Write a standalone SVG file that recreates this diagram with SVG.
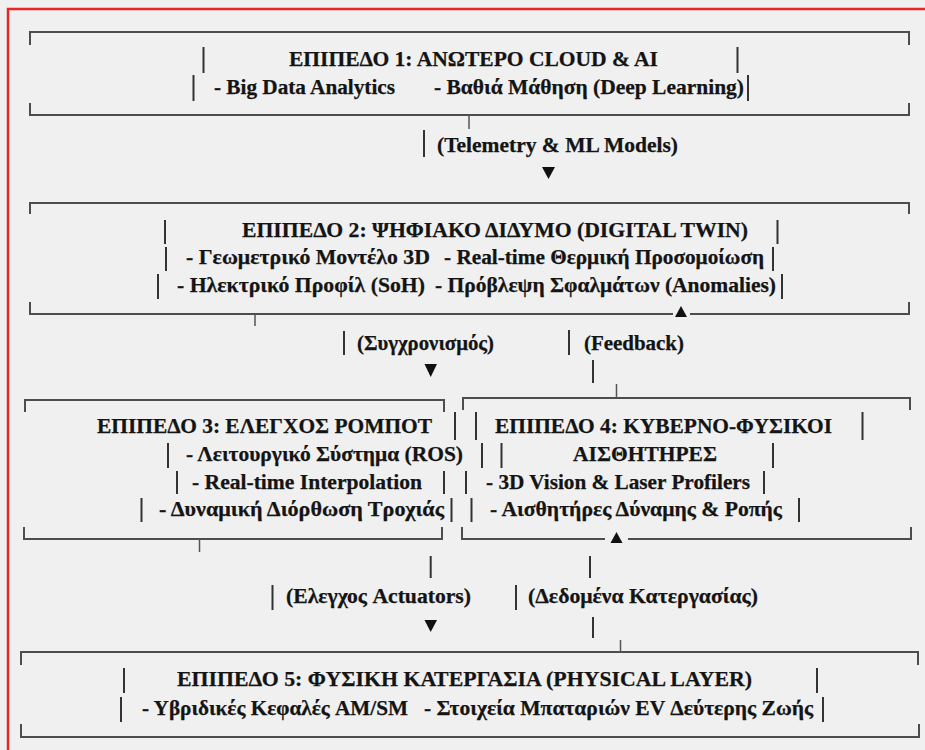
<svg xmlns="http://www.w3.org/2000/svg" width="925" height="750" viewBox="0 0 925 750">
<style>
.t{font-family:"Liberation Serif","Times New Roman",serif;font-weight:bold;font-size:21px;fill:#141414;stroke:#141414;stroke-width:0.25}
.br{fill:none;stroke:#4d4d4d;stroke-width:2}
.bar{stroke:#333;stroke-width:2;fill:none}
.tk{stroke:#555;stroke-width:1.5;fill:none}
.ar{fill:#111}
</style>
<rect x="0" y="0" width="925" height="750" fill="#f0f0f0"/>
<rect x="8" y="9" width="940" height="770" fill="none" stroke="#e8262a" stroke-width="2.5"/>

<g id="level1">
<path class="br" d="M30 45V32H909V45M30 103V115H909V103"/>
<line class="bar" x1="203.5" y1="47" x2="203.5" y2="73"/>
<line class="bar" x1="737.5" y1="47" x2="737.5" y2="73"/>
<line class="bar" x1="193.5" y1="75" x2="193.5" y2="101"/>
<line class="bar" x1="748" y1="75" x2="748" y2="101"/>
<text class="t" x="289" y="66" textLength="369" lengthAdjust="spacingAndGlyphs">ΕΠΙΠΕΔΟ 1: ΑΝΩΤΕΡΟ CLOUD &amp; AI</text>
<text class="t" x="214" y="94" textLength="181" lengthAdjust="spacingAndGlyphs">- Big Data Analytics</text>
<text class="t" x="434" y="94" textLength="310" lengthAdjust="spacingAndGlyphs">- Βαθιά Μάθηση (Deep Learning)</text>
</g>

<g id="level2">
<path class="br" d="M30 214V203H909V214M30 302V314H673M690 314H909V302"/>
<polygon class="ar" points="675,317 687,317 681,306"/>
<line class="bar" x1="165" y1="220" x2="165" y2="244"/>
<line class="bar" x1="777.5" y1="220" x2="777.5" y2="244"/>
<line class="bar" x1="166" y1="247" x2="166" y2="271"/>
<line class="bar" x1="773" y1="247" x2="773" y2="271"/>
<line class="bar" x1="158" y1="274" x2="158" y2="299"/>
<line class="bar" x1="782" y1="274" x2="782" y2="299"/>
<text class="t" x="242" y="237" textLength="506" lengthAdjust="spacingAndGlyphs">ΕΠΙΠΕΔΟ 2: ΨΗΦΙΑΚΟ ΔΙΔΥΜΟ (DIGITAL TWIN)</text>
<text class="t" x="186" y="264" textLength="244" lengthAdjust="spacingAndGlyphs">- Γεωμετρικό Μοντέλο 3D</text>
<text class="t" x="444" y="264" textLength="320" lengthAdjust="spacingAndGlyphs">- Real-time Θερμική Προσομοίωση</text>
<text class="t" x="177" y="292" textLength="248" lengthAdjust="spacingAndGlyphs">- Ηλεκτρικό Προφίλ (SoH)</text>
<text class="t" x="435" y="292" textLength="341" lengthAdjust="spacingAndGlyphs">- Πρόβλεψη Σφαλμάτων (Anomalies)</text>
</g>

<g id="level3">
<path class="br" d="M25 412V400H444V412M24 527V539H442V527"/>
<line class="bar" x1="455" y1="412" x2="455" y2="440"/>
<line class="bar" x1="168" y1="443" x2="168" y2="468"/>
<line class="bar" x1="482" y1="443" x2="482" y2="468"/>
<line class="bar" x1="177" y1="471" x2="177" y2="494"/>
<line class="bar" x1="444" y1="471" x2="444" y2="494"/>
<line class="bar" x1="141.5" y1="498" x2="141.5" y2="522"/>
<line class="bar" x1="451.5" y1="498" x2="451.5" y2="522"/>
<text class="t" x="97" y="433" textLength="335" lengthAdjust="spacingAndGlyphs">ΕΠΙΠΕΔΟ 3: ΕΛΕΓΧΟΣ ΡΟΜΠΟΤ</text>
<text class="t" x="186" y="461" textLength="277" lengthAdjust="spacingAndGlyphs">- Λειτουργικό Σύστημα (ROS)</text>
<text class="t" x="192" y="489" textLength="230" lengthAdjust="spacingAndGlyphs">- Real-time Interpolation</text>
<text class="t" x="159" y="516" textLength="285" lengthAdjust="spacingAndGlyphs">- Δυναμική Διόρθωση Τροχιάς</text>
</g>

<g id="level4">
<path class="br" d="M463 410V398H910V410M462 527V539H605M628 539H911V527"/>
<polygon class="ar" points="610.5,543 622.5,543 616.5,532"/>
<line class="bar" x1="476" y1="412" x2="476" y2="440"/>
<line class="bar" x1="862.5" y1="412" x2="862.5" y2="440"/>
<line class="bar" x1="501.5" y1="443" x2="501.5" y2="468"/>
<line class="bar" x1="773" y1="443" x2="773" y2="468"/>
<line class="bar" x1="466" y1="471" x2="466" y2="494"/>
<line class="bar" x1="764" y1="471" x2="764" y2="494"/>
<line class="bar" x1="471.5" y1="498" x2="471.5" y2="522"/>
<line class="bar" x1="799" y1="498" x2="799" y2="522"/>
<text class="t" x="495" y="433" textLength="337" lengthAdjust="spacingAndGlyphs">ΕΠΙΠΕΔΟ 4: ΚΥΒΕΡΝΟ-ΦΥΣΙΚΟΙ</text>
<text class="t" x="573" y="461" textLength="144" lengthAdjust="spacingAndGlyphs">ΑΙΣΘΗΤΗΡΕΣ</text>
<text class="t" x="486" y="489" textLength="264" lengthAdjust="spacingAndGlyphs">- 3D Vision &amp; Laser Profilers</text>
<text class="t" x="490" y="516" textLength="292" lengthAdjust="spacingAndGlyphs">- Αισθητήρες Δύναμης &amp; Ροπής</text>
</g>

<g id="level5">
<path class="br" d="M21 665V652H918V665M21 724V737H919V724"/>
<line class="bar" x1="124" y1="668" x2="124" y2="693"/>
<line class="bar" x1="817" y1="668" x2="817" y2="693"/>
<line class="bar" x1="121" y1="697" x2="121" y2="722"/>
<line class="bar" x1="823" y1="697" x2="823" y2="722"/>
<text class="t" x="177" y="686" textLength="575" lengthAdjust="spacingAndGlyphs">ΕΠΙΠΕΔΟ 5: ΦΥΣΙΚΗ ΚΑΤΕΡΓΑΣΙΑ (PHYSICAL LAYER)</text>
<text class="t" x="142" y="715" textLength="266" lengthAdjust="spacingAndGlyphs">- Υβριδικές Κεφαλές AM/SM</text>
<text class="t" x="424" y="715" textLength="389" lengthAdjust="spacingAndGlyphs">- Στοιχεία Μπαταριών EV Δεύτερης Ζωής</text>
</g>

<g id="connectors">
<line class="tk" x1="469" y1="115" x2="469" y2="129"/>
<line class="bar" x1="424" y1="130" x2="424" y2="157"/>
<text class="t" x="437" y="152" textLength="241" lengthAdjust="spacingAndGlyphs">(Telemetry &amp; ML Models)</text>
<polygon class="ar" points="542,167 555,167 548.5,179"/>

<line class="tk" x1="255" y1="314" x2="255" y2="326"/>
<line class="bar" x1="344" y1="331" x2="344" y2="355"/>
<text class="t" x="357" y="350" textLength="137" lengthAdjust="spacingAndGlyphs">(Συγχρονισμός)</text>
<polygon class="ar" points="424.5,364 437,364 430.7,377"/>
<line class="bar" x1="569" y1="330" x2="569" y2="355"/>
<text class="t" x="584" y="350" textLength="100" lengthAdjust="spacingAndGlyphs">(Feedback)</text>
<line class="bar" x1="593" y1="360" x2="593" y2="383"/>
<line class="tk" x1="616.5" y1="384" x2="616.5" y2="398"/>

<line class="tk" x1="199.5" y1="539" x2="199.5" y2="552"/>
<line class="bar" x1="430.7" y1="556" x2="430.7" y2="578"/>
<line class="bar" x1="272.5" y1="585" x2="272.5" y2="610"/>
<text class="t" x="286" y="603" textLength="185" lengthAdjust="spacingAndGlyphs">(Ελεγχος Actuators)</text>
<polygon class="ar" points="424.5,620 437,620 430.7,632"/>
<line class="bar" x1="590" y1="556" x2="590" y2="578"/>
<line class="bar" x1="516" y1="585" x2="516" y2="610"/>
<text class="t" x="528" y="603" textLength="230" lengthAdjust="spacingAndGlyphs">(Δεδομένα Κατεργασίας)</text>
<line class="bar" x1="593" y1="617" x2="593" y2="638"/>
<line class="tk" x1="620.5" y1="640" x2="620.5" y2="652"/>
</g>
</svg>
